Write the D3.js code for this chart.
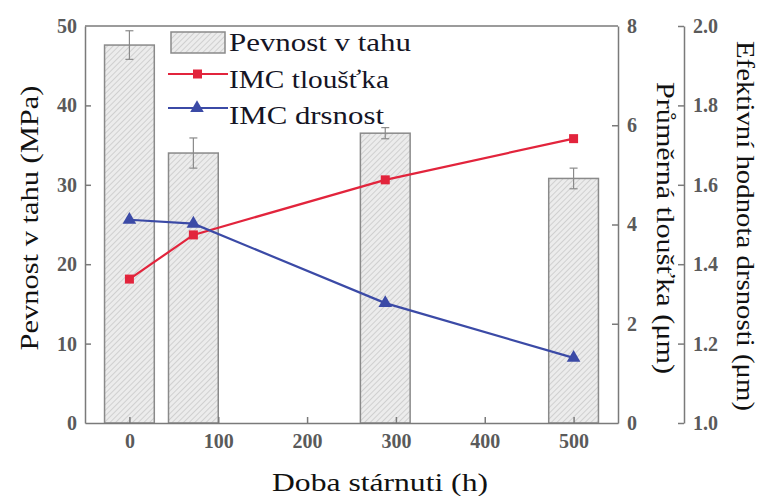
<!DOCTYPE html>
<html>
<head>
<meta charset="utf-8">
<script src="https://cdn.jsdelivr.net/npm/d3@7/dist/d3.min.js"></script>
<style>
  html, body { margin: 0; padding: 0; background: #ffffff; }
  svg { display: block; }
</style>
</head>
<body>
<svg id="chart" width="759" height="496"></svg>
<script>
// Aging time (h) for each sample
const agingHours = [0, 72, 288, 500];
// Tensile strength (MPa) and its error
const tensileStrength = [47.6, 34.0, 36.5, 30.8];
const tensileError = [1.8, 1.9, 0.7, 1.3];
// Average IMC thickness (µm)
const imcThickness = [2.9, 3.79, 4.9, 5.73];
// Effective IMC roughness (µm)
const imcRoughness = [1.512, 1.502, 1.302, 1.164];

const xTicks = [0, 100, 200, 300, 400, 500];
const leftTicks = [0, 10, 20, 30, 40, 50];
const thickTicks = [0, 2, 4, 6, 8];
const roughTicks = [1.0, 1.2, 1.4, 1.6, 1.8, 2.0];

const legendLabels = ["Pevnost v tahu", "IMC tloušťka", "IMC drsnost"];

const serif = "'Liberation Serif', 'Times New Roman', serif";
const svg = d3.select("#chart");
const plot = { left: 85, right: 618, top: 26, bottom: 423 };
const roughAxisX = 684;

const x = d3.scaleLinear().domain([-50, 550]).range([plot.left, plot.right]);
const yL = d3.scaleLinear().domain([0, 50]).range([plot.bottom, plot.top]);
const yT = d3.scaleLinear().domain([0, 8]).range([plot.bottom, plot.top]);
const yR = d3.scaleLinear().domain([1.0, 2.0]).range([plot.bottom, plot.top]);

const red = "#e2243c";
const blue = "#3b4aa6";
const axisGray = "#7a7a7a";
const tickText = "#5a5a5a";
const barWidthHours = 56;

// Hatch pattern for the bars
const defs = svg.append("defs");
const pat = defs.append("pattern")
  .attr("id", "hatch")
  .attr("patternUnits", "userSpaceOnUse")
  .attr("width", 4).attr("height", 4)
  .attr("patternTransform", "rotate(45)");
pat.append("rect").attr("width", 4).attr("height", 4).attr("fill", "#ececec");
pat.append("line").attr("x1", 0).attr("y1", 0).attr("x2", 0).attr("y2", 4)
  .attr("stroke", "#b4b4b4").attr("stroke-width", 1);

// Bars
const bw = x(barWidthHours) - x(0);
svg.append("g").selectAll("rect")
  .data(agingHours)
  .join("rect")
  .attr("x", d => x(d) - bw / 2)
  .attr("y", (d, i) => yL(tensileStrength[i]))
  .attr("width", bw)
  .attr("height", (d, i) => yL(0) - yL(tensileStrength[i]))
  .attr("fill", "url(#hatch)")
  .attr("stroke", "#8a8a8a")
  .attr("stroke-width", 1.5);

// Error bars
const eb = svg.append("g").attr("stroke", "#8a8a8a").attr("stroke-width", 1.2);
agingHours.forEach((h, i) => {
  const cx = x(h);
  const hi = yL(tensileStrength[i] + tensileError[i]);
  const lo = yL(tensileStrength[i] - tensileError[i]);
  eb.append("line").attr("x1", cx).attr("x2", cx).attr("y1", hi).attr("y2", lo);
  eb.append("line").attr("x1", cx - 4).attr("x2", cx + 4).attr("y1", hi).attr("y2", hi);
  eb.append("line").attr("x1", cx - 4).attr("x2", cx + 4).attr("y1", lo).attr("y2", lo);
});

// Frame: top border
svg.append("line")
  .attr("x1", plot.left).attr("x2", plot.right)
  .attr("y1", plot.top).attr("y2", plot.top)
  .attr("stroke", axisGray).attr("stroke-width", 1.5);

function styleAxis(g) {
  g.selectAll(".domain").attr("stroke", axisGray).attr("stroke-width", 1.5);
  g.selectAll(".tick line").attr("stroke", axisGray).attr("stroke-width", 1.5);
  g.selectAll(".tick text")
    .attr("fill", tickText)
    .attr("font-family", serif)
    .attr("font-weight", "bold")
    .attr("font-size", 20);
}

// Bottom axis
const gx = svg.append("g")
  .attr("transform", `translate(0,${plot.bottom})`)
  .call(d3.axisBottom(x).tickValues(xTicks).tickFormat(d3.format("d"))
    .tickSizeInner(-6).tickSizeOuter(0).tickPadding(11));
styleAxis(gx);

// Left axis
const gl = svg.append("g")
  .attr("transform", `translate(${plot.left},0)`)
  .call(d3.axisLeft(yL).tickValues(leftTicks).tickFormat(d3.format("d"))
    .tickSizeInner(-6).tickSizeOuter(0).tickPadding(8));
styleAxis(gl);
gl.selectAll(".tick").filter(d => d === 50 || d === 0).select("line").remove();

// Thickness axis (right border of the plot)
const gt = svg.append("g")
  .attr("transform", `translate(${plot.right},0)`)
  .call(d3.axisRight(yT).tickValues(thickTicks).tickFormat(d3.format("d"))
    .tickSizeInner(-6).tickSizeOuter(0).tickPadding(9));
styleAxis(gt);
gt.selectAll(".tick").filter(d => d === 8 || d === 0).select("line").remove();

// Roughness axis (offset to the right)
const gr = svg.append("g")
  .attr("transform", `translate(${roughAxisX},0)`)
  .call(d3.axisRight(yR).tickValues(roughTicks).tickFormat(d3.format(".1f"))
    .tickSizeInner(-6).tickSizeOuter(0).tickPadding(9));
styleAxis(gr);

// Thickness line
const lineT = d3.line().x((d, i) => x(agingHours[i])).y(d => yT(d));
svg.append("path").datum(imcThickness)
  .attr("d", lineT).attr("fill", "none")
  .attr("stroke", red).attr("stroke-width", 2.2);
svg.append("g").selectAll("rect").data(imcThickness).join("rect")
  .attr("x", (d, i) => x(agingHours[i]) - 4.5)
  .attr("y", d => yT(d) - 4.5)
  .attr("width", 9).attr("height", 9)
  .attr("fill", red);

// Roughness line
const lineR = d3.line().x((d, i) => x(agingHours[i])).y(d => yR(d));
svg.append("path").datum(imcRoughness)
  .attr("d", lineR).attr("fill", "none")
  .attr("stroke", blue).attr("stroke-width", 2.2);
const tri = d3.symbol().type(d3.symbolTriangle).size(80);
svg.append("g").selectAll("path").data(imcRoughness).join("path")
  .attr("d", tri)
  .attr("transform", (d, i) => `translate(${x(agingHours[i])},${yR(d)})`)
  .attr("fill", blue);

// Legend
const lg = svg.append("g");
lg.append("rect").attr("x", 171).attr("y", 32).attr("width", 54).attr("height", 21)
  .attr("fill", "url(#hatch)").attr("stroke", "#8a8a8a").attr("stroke-width", 1.5);
lg.append("line").attr("x1", 168).attr("x2", 228).attr("y1", 74).attr("y2", 74)
  .attr("stroke", red).attr("stroke-width", 2.2);
lg.append("rect").attr("x", 193).attr("y", 69.5).attr("width", 9).attr("height", 9).attr("fill", red);
lg.append("line").attr("x1", 168).attr("x2", 228).attr("y1", 108).attr("y2", 108)
  .attr("stroke", blue).attr("stroke-width", 2.2);
lg.append("path").attr("d", tri).attr("transform", "translate(197,108)").attr("fill", blue);

const legendY = [51, 88, 124];
const legendW = [182, 160, 155];
lg.selectAll("text.lab").data(legendLabels).join("text")
  .attr("class", "lab")
  .attr("x", 229)
  .attr("y", (d, i) => legendY[i])
  .attr("font-family", serif)
  .attr("font-size", 26)
  .attr("fill", "#151525")
  .attr("textLength", (d, i) => legendW[i])
  .attr("lengthAdjust", "spacingAndGlyphs")
  .text(d => d);

// Axis titles
function title(transform, len, label) {
  svg.append("text")
    .attr("transform", transform)
    .attr("text-anchor", "middle")
    .attr("font-family", serif)
    .attr("font-size", 25)
    .attr("fill", "#111")
    .attr("textLength", len).attr("lengthAdjust", "spacingAndGlyphs")
    .text(label);
}
title("translate(380,491)", 216, "Doba stárnuti (h)");
title("translate(38,218) rotate(-90)", 265, "Pevnost v tahu (MPa)");
title("translate(657,228) rotate(90)", 292, "Průměrná tloušťka (μm)");
title("translate(737,226) rotate(90)", 370, "Efektivní hodnota drsnosti (μm)");
</script>
</body>
</html>
